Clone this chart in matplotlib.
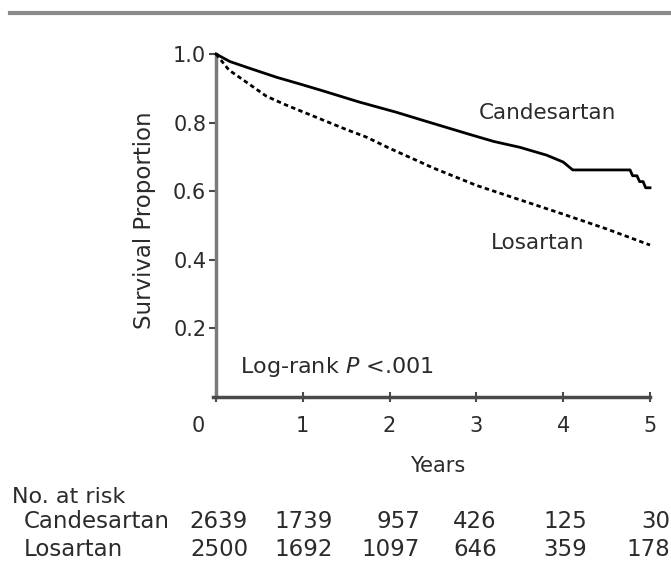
import matplotlib
matplotlib.use("Agg")
import matplotlib.pyplot as plt
from matplotlib.lines import Line2D
from matplotlib.transforms import ScaledTranslation

plt.rcParams['font.family'] = ['DejaVu Sans']

# survival curves
cand_years = [0, 0.16, 0.38, 0.70, 0.96, 1.2, 1.65, 2.08, 2.30, 2.47, 2.93, 3.2, 3.5, 3.81, 4.0, 4.11, 4.77, 4.80, 4.85, 4.88, 4.92, 4.95, 5.0]
cand_surv = [1.0, 0.978, 0.959, 0.932, 0.913, 0.895, 0.86, 0.83, 0.813, 0.80, 0.765, 0.745, 0.728, 0.705, 0.685, 0.662, 0.662, 0.645, 0.645, 0.628, 0.628, 0.61, 0.61]

los_years = [0, 0.08, 0.15, 0.31, 0.58, 0.80, 1.15, 1.5, 1.73, 2.0, 2.30, 2.5, 3.0, 3.5, 4.0, 4.5, 5.0]
los_surv = [1.0, 0.975, 0.953, 0.925, 0.877, 0.852, 0.816, 0.78, 0.758, 0.725, 0.691, 0.668, 0.617, 0.575, 0.533, 0.49, 0.443]

year_ticks = [0, 1, 2, 3, 4, 5]
surv_ticks = [0.2, 0.4, 0.6, 0.8, 1.0]

groups = ['Candesartan', 'Losartan']
at_risk = {
    'Candesartan': [2639, 1739, 957, 426, 125, 30],
    'Losartan': [2500, 1692, 1097, 646, 359, 178],
}

W, H = 671, 563


def fx(px):
    return px / W


def fy(py):
    return 1 - py / H


fig = plt.figure(figsize=(W / 100, H / 100), dpi=100)
ax = fig.add_axes([fx(216), fy(397), 434 / W, 343 / H])

txt = '#2b2b2b'

ax.plot(cand_years, cand_surv, color='black', lw=2.0, clip_on=False, zorder=3)
ax.plot(los_years, los_surv, color='black', lw=2.0, ls=(0, (1.6, 1.2)), clip_on=False, zorder=3)

ax.set_xlim(0, 5)
ax.set_ylim(0, 1.0)

for s in ['top', 'right']:
    ax.spines[s].set_visible(False)
ax.spines['left'].set_color('#7a7a7a')
ax.spines['left'].set_linewidth(2.5)
ax.spines['bottom'].set_color('#4a4a4a')
ax.spines['bottom'].set_linewidth(2.5)
ax.spines['bottom'].set_bounds(-0.04, 5)

ax.set_xticks(year_ticks)
ax.set_xticklabels([str(t) for t in year_ticks])
ax.set_yticks(surv_ticks)
ax.set_yticklabels(['%.1f' % v for v in surv_ticks])
ax.tick_params(axis='x', direction='inout', length=7, width=1.5, color='#4a4a4a',
               labelsize=15, labelcolor=txt, pad=10)
ax.tick_params(axis='y', direction='out', length=5, width=1.5, color='#4a4a4a',
               labelsize=15, labelcolor=txt, pad=2)

# the 0 label sits left of the axis corner
lab0 = ax.get_xticklabels()[0]
lab0.set_transform(lab0.get_transform() + ScaledTranslation(-0.18, 0, fig.dpi_scale_trans))

fig.text(fx(547), fy(113), 'Candesartan', ha='center', va='center', fontsize=15.5, color=txt)
fig.text(fx(538), fy(243), 'Losartan', ha='center', va='center', fontsize=15.5, color=txt)
fig.text(fx(240), fy(367), 'Log-rank $\\it{P}$ <.001', ha='left', va='center', fontsize=16, color=txt)

fig.text(fx(145), fy(220), 'Survival Proportion', rotation=90, ha='center', va='center',
         fontsize=16.5, color=txt)
fig.text(fx(438), fy(466), 'Years', ha='center', va='center', fontsize=15, color=txt)

# number at risk table
fig.text(fx(12), fy(497), 'No. at risk', ha='left', va='center', fontsize=16, color=txt)
col_right = [248, 333, 420, 497, 587, 670]
row_y = [522, 549]
for g, yy in zip(groups, row_y):
    fig.text(fx(24), fy(yy), g, ha='left', va='center', fontsize=16.5, color=txt)
    for n, xr in zip(at_risk[g], col_right):
        fig.text(fx(xr), fy(yy), str(n), ha='right', va='center', fontsize=16.5, color=txt)

# grey rule across the top of the panel
fig.add_artist(Line2D([fx(10), 1.0], [fy(13), fy(13)], transform=fig.transFigure,
                      color='#8a8a8a', lw=3))

fig.savefig('out.png', dpi=100)
